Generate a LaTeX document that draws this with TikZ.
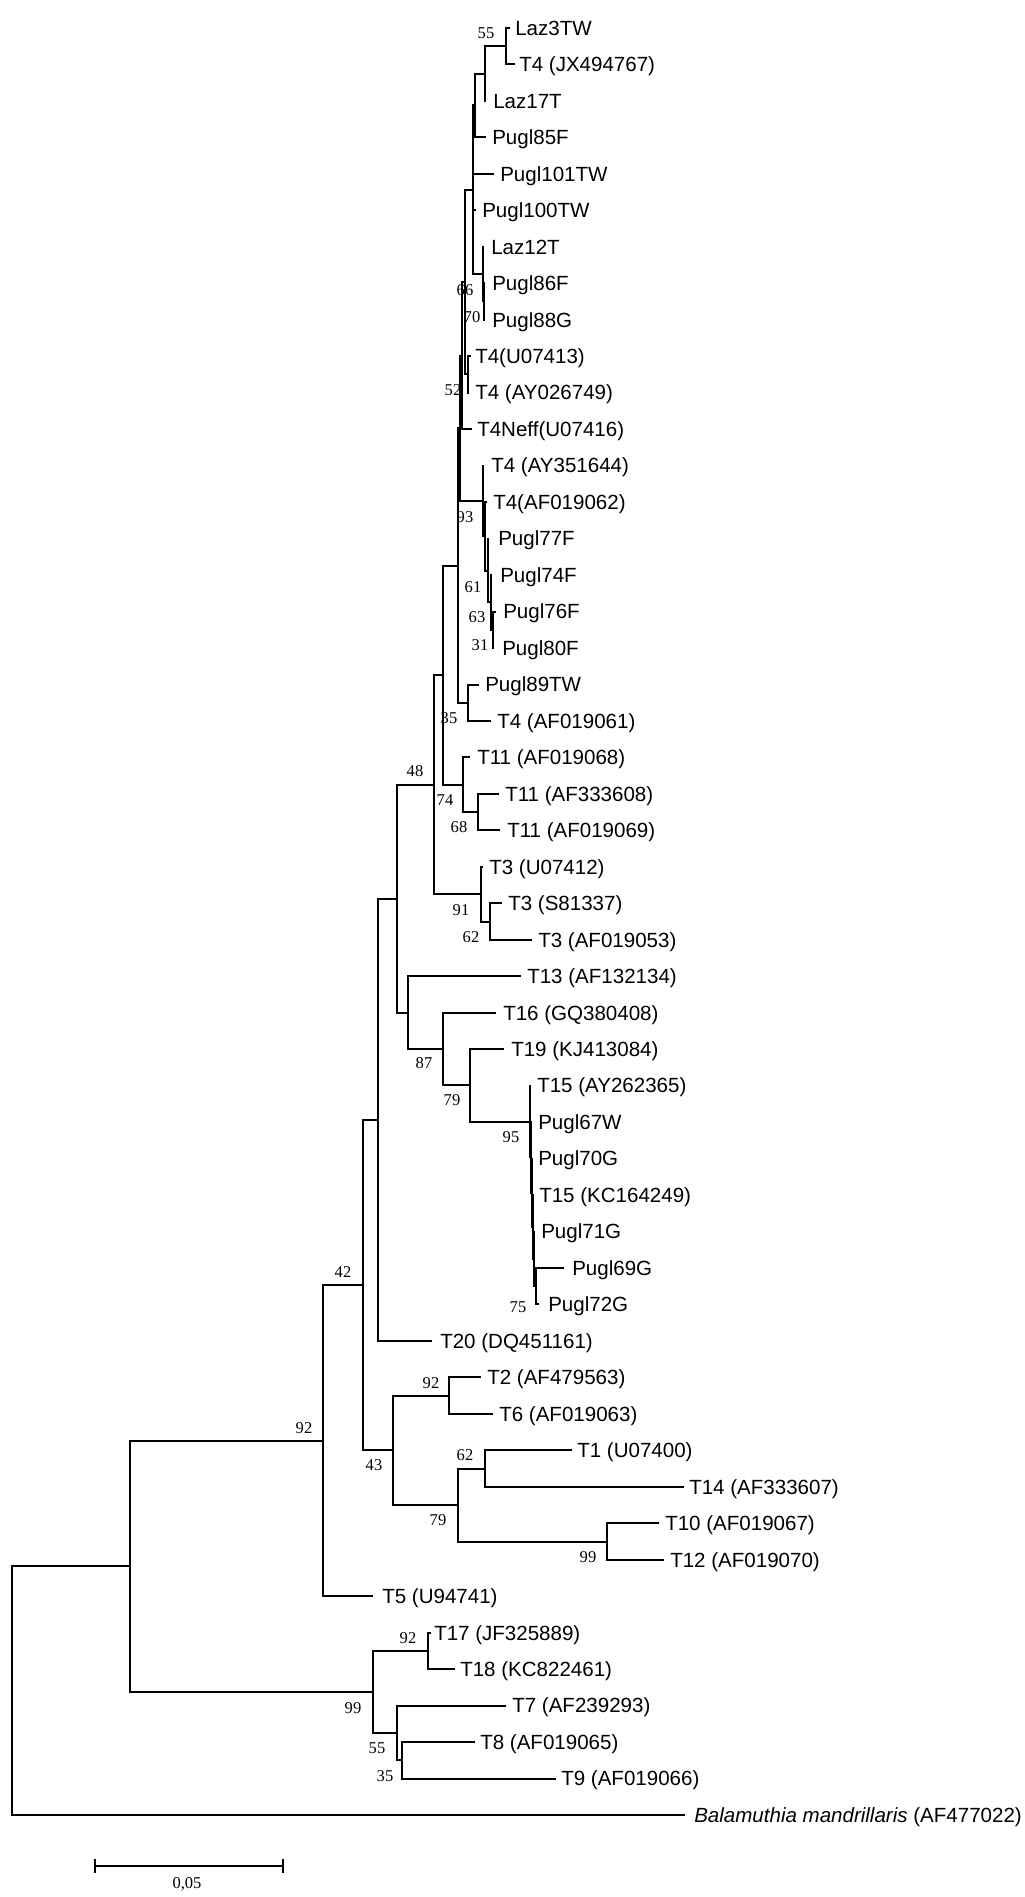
\documentclass[tikz,border=0pt]{standalone}
\usepackage{fontspec}
\setmainfont{Liberation Sans}
\newfontfamily\bsfont{Liberation Serif}
\newcommand{\nd}[5]{\draw[br] (#1,#5) -- (#2,#5) (#2,#3) -- (#2,#4);}
\newcommand{\lf}[6]{\draw[br] (#2,#4) -- (#3,#4); \node[lab] (#1) at (#5,{#4+7.3}) {#6};}
\newcommand{\bsv}[4]{\node[boot] (#1) at (#2,#3) {#4};}
\begin{document}
\begin{tikzpicture}[x=0.75pt,y=-0.75pt,
  br/.style={line width=1.5pt,line cap=rect},
  lab/.style={anchor=base west,inner sep=0pt,font=\fontsize{15.4pt}{18pt}\selectfont},
  boot/.style={inner sep=0pt,font=\bsfont\fontsize{12.4pt}{14pt}\selectfont}]
\useasboundingbox (0,0) rectangle (1024,1897);
% ---------- T4 cluster ----------
\nd{485}{506}{28}{64.5}{46.2}
\lf{l1}{506}{509}{28}{515}{Laz3TW}
\lf{l2}{506}{514}{64.5}{519}{T4 (JX494767)}
\nd{475}{485}{46.2}{100.9}{73.6}
\lf{l3}{485}{485}{100.9}{493}{Laz17T}
\nd{473}{475}{73.6}{137.4}{105.5}
\lf{l4}{475}{485}{137.4}{492}{Pugl85F}
\nd{465}{473}{105.5}{274}{189.8}
\lf{l5}{473}{493}{173.9}{500}{Pugl101TW}
\lf{l6}{473}{475}{210.4}{482}{Pugl100TW}
\nd{473}{483}{246.8}{301.5}{274}
\lf{l7}{483}{483}{246.8}{491}{Laz12T}
\nd{483}{484}{283.3}{319.8}{301.5}
\lf{l8}{484}{484}{283.3}{492}{Pugl86F}
\lf{l9}{484}{484}{319.8}{492}{Pugl88G}
\nd{462}{465}{189.8}{374.5}{282.1}
\nd{465}{468}{356.2}{392.7}{374.5}
\lf{l10}{468}{470}{356.2}{475}{T4(U07413)}
\lf{l11}{468}{468}{392.7}{475}{T4 (AY026749)}
\nd{460}{462}{282.1}{429.2}{355.6}
\lf{l12}{462}{471}{429.2}{477}{T4Neff(U07416)}
\nd{458}{460}{355.6}{501}{428.3}
\nd{460}{483}{465.6}{536.3}{501}
\lf{l13}{483}{483}{465.6}{491}{T4 (AY351644)}
\nd{483}{485}{502.1}{570.5}{536.3}
\lf{l14}{485}{486}{502.1}{493}{T4(AF019062)}
\nd{485}{488}{538.6}{602.4}{570.5}
\lf{l15}{488}{488}{538.6}{498}{Pugl77F}
\nd{488}{491}{575.05}{629.8}{602.4}
\lf{l16}{491}{491}{575.05}{500}{Pugl74F}
\nd{491}{493}{611.5}{648}{629.8}
\lf{l17}{493}{495}{611.5}{503}{Pugl76F}
\lf{l18}{493}{493}{648}{502}{Pugl80F}
\nd{443}{458}{428.3}{702.7}{565.5}
\nd{458}{468}{684.5}{720.9}{702.7}
\lf{l19}{468}{478}{684.5}{485}{Pugl89TW}
\lf{l20}{468}{490}{720.9}{497}{T4 (AF019061)}
% ---------- T11 / T3 ----------
\nd{434}{443}{565.5}{784.8}{675.1}
\nd{443}{463}{757.4}{812.1}{784.8}
\lf{l21}{463}{469}{757.4}{477}{T11 (AF019068)}
\nd{463}{478}{793.9}{830.3}{812.1}
\lf{l22}{478}{498}{793.9}{505}{T11 (AF333608)}
\lf{l23}{478}{499}{830.3}{507}{T11 (AF019069)}
\nd{397}{434}{675.1}{894.2}{784.6}
\nd{434}{481}{866.8}{921.5}{894.2}
\lf{l24}{481}{482}{866.8}{489}{T3 (U07412)}
\nd{481}{490}{903.3}{939.75}{921.5}
\lf{l25}{490}{501}{903.3}{508}{T3 (S81337)}
\lf{l26}{490}{531}{939.75}{538}{T3 (AF019053)}
% ---------- T13 / T16 / T19 / T15 ----------
\nd{378}{397}{784.6}{1012.6}{898.6}
\nd{397}{408}{976.2}{1049}{1012.6}
\lf{l27}{408}{520}{976.2}{527}{T13 (AF132134)}
\nd{408}{443}{1012.7}{1085.4}{1049}
\lf{l28}{443}{495}{1012.7}{503}{T16 (GQ380408)}
\nd{443}{470}{1049.2}{1121.5}{1085.4}
\lf{l29}{470}{503}{1049.2}{511}{T19 (KJ413084)}
\nd{470}{530}{1085.6}{1157.4}{1121.5}
\lf{l30}{530}{530}{1085.6}{537}{T15 (AY262365)}
\nd{530}{531}{1122.1}{1192.8}{1157.4}
\lf{l31}{531}{531}{1122.1}{538}{Pugl67W}
\nd{531}{532}{1158.6}{1227}{1192.8}
\lf{l32}{532}{532}{1158.6}{538}{Pugl70G}
\nd{532}{533}{1195}{1258.9}{1227}
\lf{l33}{533}{533}{1195}{539}{T15 (KC164249)}
\nd{533}{534}{1231.5}{1286.2}{1258.9}
\lf{l34}{534}{534}{1231.5}{541}{Pugl71G}
\nd{534}{536}{1268}{1304.45}{1286.2}
\lf{l35}{536}{563}{1268}{572}{Pugl69G}
\lf{l36}{536}{538}{1304.45}{548}{Pugl72G}
% ---------- T20, T2/T6, T1/T14, T10/T12 ----------
\nd{363}{378}{898.6}{1340.9}{1119.8}
\lf{l37}{378}{431}{1340.9}{440}{T20 (DQ451161)}
\nd{323}{363}{1119.8}{1450.3}{1285}
\nd{363}{393}{1395.6}{1505}{1450.3}
\nd{393}{449}{1377.4}{1413.9}{1395.6}
\lf{l38}{449}{480}{1377.4}{487}{T2 (AF479563)}
\lf{l39}{449}{492}{1413.9}{499}{T6 (AF019063)}
\nd{393}{458}{1468.6}{1541.5}{1505}
\nd{458}{485}{1450.3}{1486.8}{1468.6}
\lf{l40}{485}{571}{1450.3}{577}{T1 (U07400)}
\lf{l41}{485}{683}{1486.8}{689}{T14 (AF333607)}
\nd{458}{607}{1523.3}{1559.7}{1541.5}
\lf{l42}{607}{658}{1523.3}{665}{T10 (AF019067)}
\lf{l43}{607}{663}{1559.7}{670}{T12 (AF019070)}
% ---------- T5, outgroup clade, root ----------
\nd{130}{323}{1285}{1596.2}{1440.6}
\lf{l44}{323}{372}{1596.2}{382}{T5 (U94741)}
\nd{130}{373}{1650.9}{1733}{1692}
\nd{373}{428}{1632.7}{1669.2}{1650.9}
\lf{l45}{428}{430}{1632.7}{434}{T17 (JF325889)}
\lf{l46}{428}{454}{1669.2}{460}{T18 (KC822461)}
\nd{373}{397}{1705.6}{1760.3}{1733}
\lf{l47}{397}{505}{1705.6}{512}{T7 (AF239293)}
\nd{397}{402}{1742.1}{1778.6}{1760.3}
\lf{l48}{402}{474}{1742.1}{480}{T8 (AF019065)}
\lf{l49}{402}{555}{1778.6}{561}{T9 (AF019066)}
\nd{12}{130}{1440.6}{1692}{1566.3}
\draw[br] (12,1566.3) -- (12,1815);
\lf{l50}{12}{684}{1815}{694}{\textit{Balamuthia mandrillaris} (AF477022)}
% ---------- bootstrap values ----------
\bsv{b1}{486}{33}{55}
\bsv{b2}{465}{290}{66}
\bsv{b3}{472}{317}{70}
\bsv{b4}{453}{390}{52}
\bsv{b5}{465}{517}{93}
\bsv{b6}{473}{587}{61}
\bsv{b7}{477}{617}{63}
\bsv{b8}{480}{645}{31}
\bsv{b9}{449}{718}{35}
\bsv{b10}{415}{771}{48}
\bsv{b11}{445}{800}{74}
\bsv{b12}{459}{827}{68}
\bsv{b13}{461}{910}{91}
\bsv{b14}{471}{937}{62}
\bsv{b15}{424}{1063}{87}
\bsv{b16}{452}{1100}{79}
\bsv{b17}{511}{1137}{95}
\bsv{b18}{518}{1307}{75}
\bsv{b19}{343}{1272}{42}
\bsv{b20}{431}{1383}{92}
\bsv{b21}{374}{1465}{43}
\bsv{b22}{465}{1455}{62}
\bsv{b23}{438}{1520}{79}
\bsv{b24}{588}{1557}{99}
\bsv{b25}{304}{1428}{92}
\bsv{b26}{408}{1638}{92}
\bsv{b27}{353}{1708}{99}
\bsv{b28}{377}{1748}{55}
\bsv{b29}{385}{1776}{35}
% ---------- scale bar ----------
\coordinate (sbL) at (95,1866);
\coordinate (sbR) at (283,1866);
\draw[line width=1.7pt] (sbL) -- (sbR);
\draw[line width=1.7pt] ([yshift=5pt]sbL) -- ([yshift=-5pt]sbL);
\draw[line width=1.7pt] ([yshift=5pt]sbR) -- ([yshift=-5pt]sbR);
\node[boot] (sblab) at (187,1884) {0,05};
\end{tikzpicture}
\end{document}
